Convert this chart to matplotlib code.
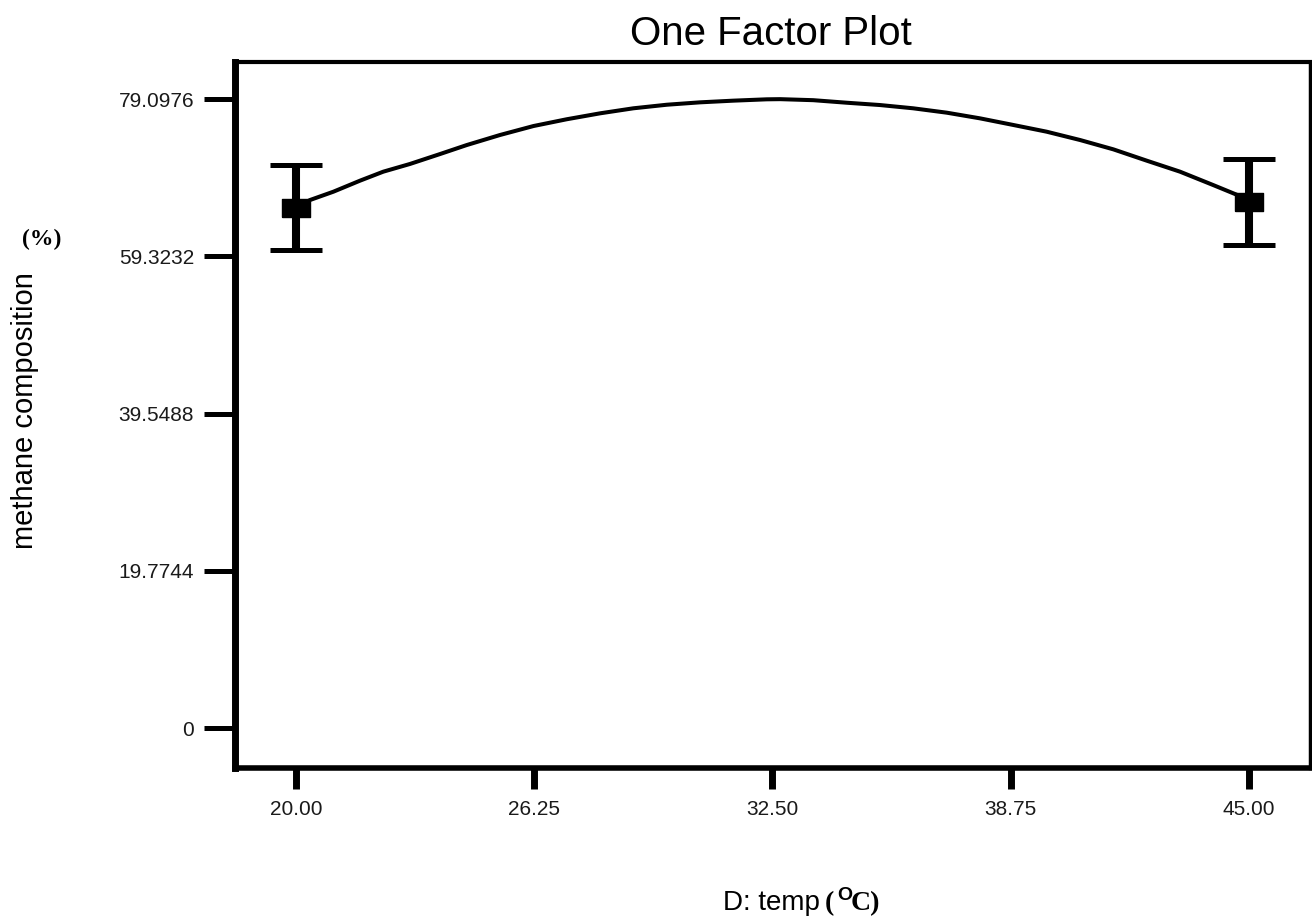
import matplotlib
matplotlib.use('Agg')
import matplotlib.pyplot as plt

# ---- data ----
temp_points = [20.0, 45.0]
methane_points = [65.45, 66.15]
methane_err = [5.35, 5.4]

temp_curve = [20.0, 20.37, 20.98, 21.68, 22.29, 22.99, 23.78, 24.48, 25.35, 26.23,
              27.10, 27.98, 28.85, 29.73, 30.60, 31.47, 32.35, 32.70, 33.57, 34.45,
              35.32, 36.19, 37.07, 37.94, 38.82, 39.69, 40.57, 41.44, 42.32, 43.19,
              44.06, 44.76, 45.0]
methane_curve = [65.45, 66.40, 67.44, 68.83, 69.96, 70.93, 72.18, 73.31, 74.57, 75.70,
                 76.55, 77.30, 77.93, 78.38, 78.68, 78.89, 79.06, 79.08, 78.95, 78.63,
                 78.34, 77.93, 77.38, 76.67, 75.83, 74.99, 73.94, 72.77, 71.34, 69.96,
                 68.28, 66.90, 66.40]

x_ticks = [20.00, 26.25, 32.50, 38.75, 45.00]
x_ticklabels = ['20.00', '26.25', '32.50', '38.75', '45.00']
y_ticks = [0, 19.7744, 39.5488, 59.3232, 79.0976]
y_ticklabels = ['0', '19.7744', '39.5488', '59.3232', '79.0976']

W, H = 1312, 917
fig = plt.figure(figsize=(W / 100, H / 100), dpi=100)
ax = fig.add_axes([234.5 / W, 1 - 768 / H, (1310 - 234.5) / W, (768 - 61.7) / H])

sans = ['Liberation Sans', 'DejaVu Sans']
serif = ['Liberation Serif', 'DejaVu Serif']

# fitted curve
ax.plot(temp_curve, methane_curve, color='black', lw=2.9, solid_joinstyle='round',
        solid_capstyle='butt', zorder=3)

# error bars
ax.errorbar(temp_points, methane_points, yerr=methane_err, fmt='none', ecolor='black',
            elinewidth=5.8, capsize=18.5, capthick=3.6, zorder=4)
rect = [(-1, -0.64), (1, -0.64), (1, 0.64), (-1, 0.64), (-1, -0.64)]
ax.plot(temp_points, methane_points, linestyle='none', marker=rect, markersize=20,
        color='black', zorder=5)

ax.set_xlim(18.387, 46.6)
ax.set_ylim(-5.03, 83.79)
ax.set_xticks(x_ticks)
ax.set_xticklabels(x_ticklabels, fontfamily=sans, fontsize=15, color='#1a1a1a')
ax.set_yticks(y_ticks)
ax.set_yticklabels(y_ticklabels, fontfamily=sans, fontsize=15, color='#1a1a1a')

ax.tick_params(axis='y', direction='out', length=22, width=3.6, pad=7)
ax.tick_params(axis='x', direction='out', length=15, width=5, pad=8)

ax.spines['left'].set_linewidth(5)
ax.spines['bottom'].set_linewidth(4)
ax.spines['top'].set_linewidth(3)
ax.spines['right'].set_linewidth(2.5)
for s in ax.spines.values():
    s.set_capstyle('projecting')

# title
fig.text(771 / W, 1 - 45 / H, 'One Factor Plot', ha='center', va='baseline',
         fontsize=29, fontfamily=sans)

# y label
fig.text(25 / W, 1 - 411 / H, 'methane composition', rotation=90, ha='center',
         va='center', fontsize=21, fontfamily=sans)
fig.text(42 / W, 1 - 239 / H, '(%)', ha='center', va='center', fontsize=17,
         fontweight='bold', fontfamily=serif)

# x label pieces
fig.text(723 / W, 1 - 910 / H, 'D: temp', ha='left', va='baseline', fontsize=20,
         fontfamily=sans)
fig.text(825 / W, 1 - 910 / H, '(', ha='left', va='baseline', fontsize=20,
         fontweight='bold', fontfamily=serif)
fig.text(837 / W, 1 - 900 / H, 'O', ha='left', va='baseline', fontsize=14,
         fontweight='bold', fontfamily=sans)
fig.text(851 / W, 1 - 910 / H, 'C)', ha='left', va='baseline', fontsize=20,
         fontweight='bold', fontfamily=serif)

fig.savefig('out.png', dpi=100)
